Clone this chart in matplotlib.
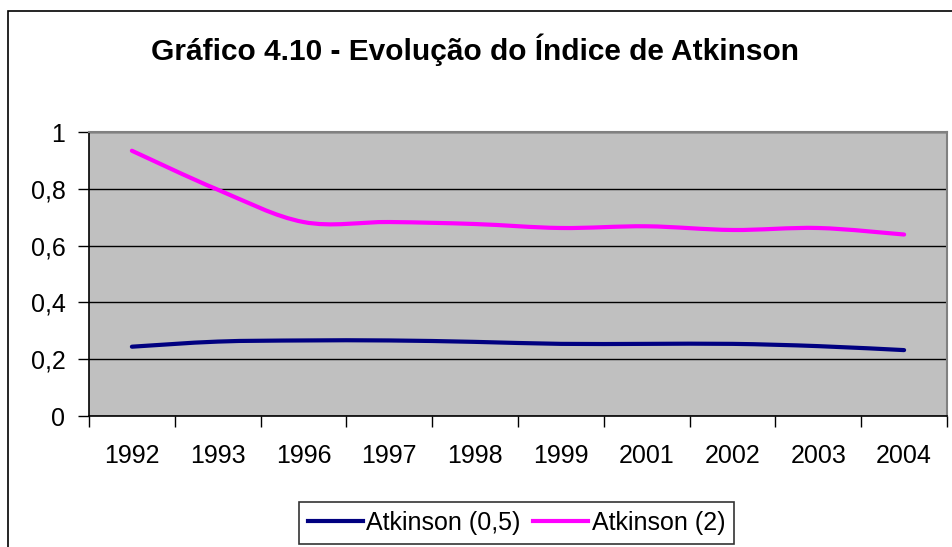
import matplotlib
matplotlib.use("Agg")
import matplotlib.pyplot as plt
from matplotlib.path import Path
from matplotlib.patches import PathPatch, Rectangle
from matplotlib.lines import Line2D

plt.rcParams['font.family'] = ['Liberation Sans', 'DejaVu Sans']

# data
years = ['1992', '1993', '1996', '1997', '1998', '1999', '2001', '2002', '2003', '2004']
atk_05 = [0.244, 0.262, 0.266, 0.266, 0.261, 0.254, 0.254, 0.254, 0.246, 0.232]
atk_2 = [0.934, 0.797, 0.683, 0.683, 0.676, 0.662, 0.668, 0.655, 0.662, 0.639]

BLUE = '#000080'
PINK = '#FF00FF'


def smooth_path(ys):
    """Excel-style smoothed line: Catmull-Rom as cubic Bezier segments"""
    n = len(ys)
    pts = [(float(i), y) for i, y in enumerate(ys)]
    verts = [pts[0]]
    codes = [Path.MOVETO]
    for i in range(n - 1):
        p0 = pts[i - 1] if i > 0 else pts[i]
        p1 = pts[i]
        p2 = pts[i + 1]
        p3 = pts[i + 2] if i + 2 < n else pts[i + 1]
        c1 = (p1[0] + (p2[0] - p0[0]) / 6, p1[1] + (p2[1] - p0[1]) / 6)
        c2 = (p2[0] - (p3[0] - p1[0]) / 6, p2[1] - (p3[1] - p1[1]) / 6)
        verts += [c1, c2, p2]
        codes += [Path.CURVE4] * 3
    return Path(verts, codes)


fig = plt.figure(figsize=(9.52, 5.47), dpi=100)
fig.patch.set_facecolor('white')

# chart area border (cropped on right and bottom in the reference)
fig.patches.append(Rectangle((8 / 952, -0.05), 1.2, 1 - 11 / 547 + 0.05,
                             transform=fig.transFigure, fill=False,
                             edgecolor='black', linewidth=1.2, zorder=0))

ax = fig.add_axes([89 / 952, 1 - 416 / 547, (947 - 89) / 952, (416 - 132) / 547])
ax.set_facecolor('#C0C0C0')

for ys, col in [(atk_05, BLUE), (atk_2, PINK)]:
    ax.add_patch(PathPatch(smooth_path(ys), facecolor='none', edgecolor=col,
                           linewidth=3, capstyle='round', joinstyle='round', zorder=3))

ax.set_xlim(-0.5, len(years) - 0.5)
ax.set_ylim(0, 1)

ax.set_yticks([0, 0.2, 0.4, 0.6, 0.8, 1.0])
ax.set_yticklabels(['0', '0,2', '0,4', '0,6', '0,8', '1'], fontsize=18)
ax.yaxis.grid(True, color='black', linewidth=1)
ax.set_axisbelow(True)

ax.set_xticks(range(len(years)))
ax.set_xticklabels(years, fontsize=18)
ax.set_xticks([i - 0.5 for i in range(len(years) + 1)], minor=True)
ax.tick_params(axis='x', which='major', length=0, pad=20)
ax.tick_params(axis='x', which='minor', length=8, width=1, direction='out')
ax.tick_params(axis='y', length=8, width=1, direction='out', pad=9)

for side in ['top', 'right']:
    ax.spines[side].set_color('#808080')
    ax.spines[side].set_linewidth(1.5)
for side in ['left', 'bottom']:
    ax.spines[side].set_color('black')
    ax.spines[side].set_linewidth(1.2)

fig.text(0.499, 1 - 50 / 547, 'Gráfico 4.10 - Evolução do Índice de Atkinson',
         ha='center', va='center', fontsize=21.5, fontweight='bold')

handles = [Line2D([], [], color=BLUE, linewidth=3),
           Line2D([], [], color=PINK, linewidth=3)]
leg = fig.legend(handles, ['Atkinson (0,5)', 'Atkinson (2)'], loc='center',
                 bbox_to_anchor=(516.5 / 952, 1 - 523 / 547), ncol=2, fontsize=18,
                 frameon=True, fancybox=False, edgecolor='black', handlelength=2.2,
                 handletextpad=0.15, columnspacing=0.5, borderpad=0.35)
leg.get_frame().set_linewidth(1.2)

fig.savefig('out.png', dpi=100)
